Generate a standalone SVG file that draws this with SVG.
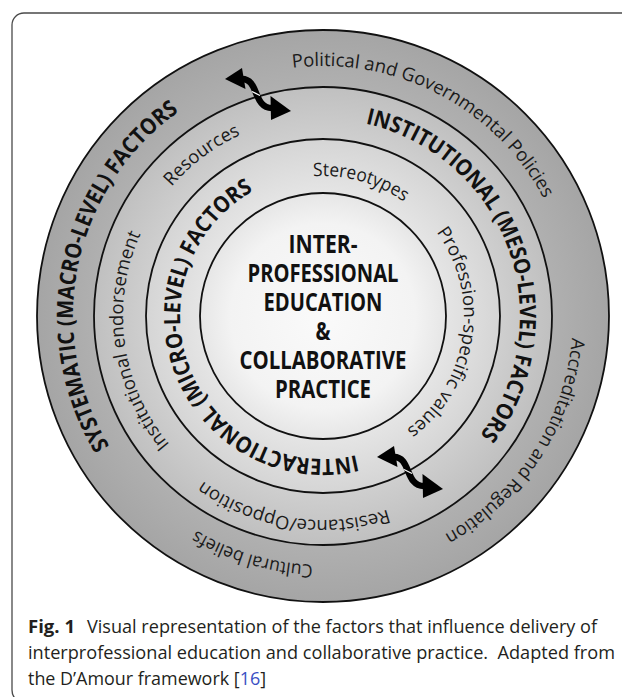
<svg xmlns="http://www.w3.org/2000/svg" width="622" height="697" viewBox="0 0 622 697">
<defs>
<style>
.ring{stroke:#111;stroke-width:1.8}
.lbl{font-family:"Open Sans","Liberation Sans",sans-serif;font-size:18.5px;fill:#1a1a1a}
.bold{font-family:"Open Sans","Liberation Sans",sans-serif;font-weight:700;font-size:22.5px;fill:#111}
.center{font-family:"Open Sans","Liberation Sans",sans-serif;font-weight:700;font-size:25px;fill:#111;text-anchor:middle}
.cap{font-family:"Open Sans","Liberation Sans",sans-serif;font-size:18.5px;fill:#231f20}
.arrow{fill:#000}
.shaft{fill:none;stroke:#000;stroke-width:6.5}
</style>
<radialGradient id="gOuter" gradientUnits="userSpaceOnUse" cx="323" cy="316" r="286">
<stop offset="0.8" stop-color="#b0b0b0"/><stop offset="1" stop-color="#a5a5a5"/>
</radialGradient>
<radialGradient id="gMeso" gradientUnits="userSpaceOnUse" cx="323" cy="316" r="229">
<stop offset="0.77" stop-color="#cfcfcf"/><stop offset="1" stop-color="#c0c0c0"/>
</radialGradient>
<radialGradient id="gMicro" gradientUnits="userSpaceOnUse" cx="323" cy="316" r="177">
<stop offset="0.69" stop-color="#e5e5e5"/><stop offset="1" stop-color="#d5d5d5"/>
</radialGradient>
<radialGradient id="gCore" gradientUnits="userSpaceOnUse" cx="323" cy="316" r="123">
<stop offset="0" stop-color="#fafafa"/><stop offset="0.75" stop-color="#f3f3f3"/><stop offset="1" stop-color="#e6e6e6"/>
</radialGradient>
<path id="pPolitical" d="M 292.53 67.86 A 250 250 0 0 1 557.92 230.49"/>
<path id="pAccred" d="M 572.05 337.79 A 250 250 0 0 1 408.51 550.92"/>
<path id="pCultural" d="M 313.01 564.80 A 249 249 0 0 1 169.70 512.21"/>
<path id="pSystematic" d="M 109.61 446.25 A 250 250 0 0 1 205.63 95.26"/>
<path id="pInstitutional" d="M 365.64 123.67 A 197 197 0 0 1 462.30 455.30"/>
<path id="pResources" d="M 171.68 186.76 A 199 199 0 0 1 271.49 123.78"/>
<path id="pEndorse" d="M 169.79 444.56 A 200 200 0 0 1 153.39 210.02"/>
<path id="pResist" d="M 387.73 509.46 A 204 204 0 0 1 181.29 462.75"/>
<path id="pStereo" d="M 313.23 176.34 A 140 140 0 0 1 421.99 217.01"/>
<path id="pProf" d="M 436.34 232.13 A 141 141 0 0 1 389.20 440.50"/>
<path id="pInteract" d="M 356.38 455.05 A 143 143 0 0 1 269.43 183.41"/>
<g id="dblArrow">
<polygon class="arrow" points="-1,0 16,-11 19.5,10"/>
<path class="shaft" d="M 16 0 C 33 0, 27 29, 46 29"/>
<polygon class="arrow" points="65,32 44.5,17 45,41"/>
<path d="M 26 12.5 L 34 16.5" stroke="#fff" stroke-width="1.2"/>
</g>
</defs>

<rect width="622" height="697" fill="#fff"/>
<path id="frame" d="M 622 13 L 24 13 A 12 12 0 0 0 12 25 L 12 690 A 12 12 0 0 0 19 701" fill="none" stroke="#4a4a4a" stroke-width="1.3"/>

<g id="rings">
<circle id="macro" class="ring" cx="323" cy="316" r="286" fill="url(#gOuter)"/>
<circle id="meso" class="ring" cx="323" cy="316" r="229" fill="url(#gMeso)"/>
<circle id="micro" class="ring" cx="323" cy="316" r="177" fill="url(#gMicro)"/>
<circle id="core" class="ring" cx="323" cy="316" r="123" fill="url(#gCore)"/>
</g>

<g id="macro-labels">
<text class="lbl"><textPath href="#pPolitical" textLength="301" lengthAdjust="spacingAndGlyphs">Political and Governmental Policies</textPath></text>
<text class="lbl"><textPath href="#pAccred" textLength="244" lengthAdjust="spacingAndGlyphs">Accreditation and Regulation</textPath></text>
<text class="lbl"><textPath href="#pCultural" textLength="123" lengthAdjust="spacingAndGlyphs">Cultural beliefs</textPath></text>
<text class="bold"><textPath href="#pSystematic" textLength="376" lengthAdjust="spacingAndGlyphs">SYSTEMATIC (MACRO-LEVEL) FACTORS</textPath></text>
</g>

<g id="meso-labels">
<text class="bold"><textPath href="#pInstitutional" textLength="394" lengthAdjust="spacingAndGlyphs">INSTITUTIONAL (MESO-LEVEL) FACTORS</textPath></text>
<text class="lbl"><textPath href="#pResources" textLength="87" lengthAdjust="spacingAndGlyphs">Resources</textPath></text>
<text class="lbl"><textPath href="#pEndorse" textLength="224" lengthAdjust="spacingAndGlyphs">Institutional endorsement</textPath></text>
<text class="lbl"><textPath href="#pResist" textLength="194" lengthAdjust="spacingAndGlyphs">Resistance/Opposition</textPath></text>
</g>

<g id="micro-labels">
<text class="lbl"><textPath href="#pStereo" textLength="96" lengthAdjust="spacingAndGlyphs">Stereotypes</textPath></text>
<text class="lbl"><textPath href="#pProf" textLength="222" lengthAdjust="spacingAndGlyphs">Profession-specific values</textPath></text>
<text class="bold"><textPath href="#pInteract" textLength="410" lengthAdjust="spacingAndGlyphs">INTERACTIONAL (MICRO-LEVEL) FACTORS</textPath></text>
</g>

<g id="core-label">
<text class="center" x="323" y="253" textLength="69" lengthAdjust="spacingAndGlyphs">INTER-</text>
<text class="center" x="323" y="282" textLength="151" lengthAdjust="spacingAndGlyphs">PROFESSIONAL</text>
<text class="center" x="323" y="311" textLength="119" lengthAdjust="spacingAndGlyphs">EDUCATION</text>
<text class="center" x="323" y="340" textLength="15" lengthAdjust="spacingAndGlyphs">&amp;</text>
<text class="center" x="323" y="369" textLength="167" lengthAdjust="spacingAndGlyphs">COLLABORATIVE</text>
<text class="center" x="323" y="398" textLength="96" lengthAdjust="spacingAndGlyphs">PRACTICE</text>
</g>

<g id="connectors">
<use href="#dblArrow" x="226" y="79"/>
<use href="#dblArrow" x="378" y="457"/>
</g>

<g id="caption">
<text class="cap" x="28" y="633" font-weight="700" textLength="47" lengthAdjust="spacingAndGlyphs">Fig. 1</text>
<text class="cap" x="87" y="633" textLength="510" lengthAdjust="spacingAndGlyphs">Visual representation of the factors that influence delivery of</text>
<text class="cap" x="28" y="659" textLength="587" lengthAdjust="spacingAndGlyphs">interprofessional education and collaborative practice.&#160; Adapted from</text>
<text class="cap" x="28" y="685" textLength="238" lengthAdjust="spacingAndGlyphs">the D’Amour framework [<tspan fill="#3a4fc4">16</tspan>]</text>
</g>
</svg>
